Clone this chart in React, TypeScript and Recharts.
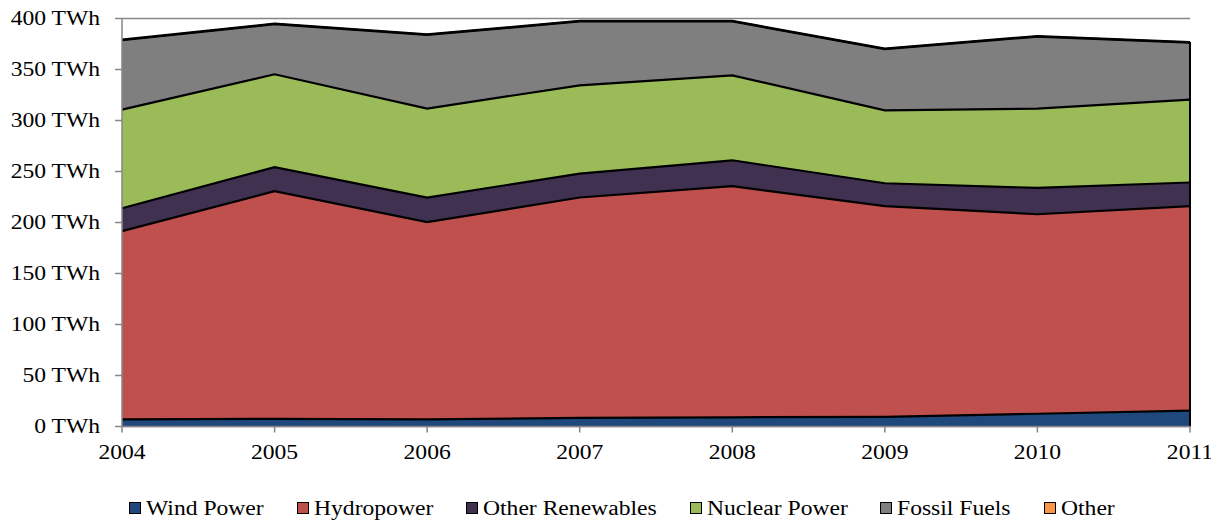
import React from 'react';
import {
  AreaChart,
  Area,
  XAxis,
  YAxis,
  CartesianGrid,
  Legend,
  ReferenceLine,
} from 'recharts';

// Electricity generation by source, TWh per year
const years = ['2004', '2005', '2006', '2007', '2008', '2009', '2010', '2011'];
const windPower = [7, 7.5, 7, 8.5, 9, 9.5, 12.5, 15.5];
const hydropower = [184.5, 223.2, 193.3, 216, 226.6, 206.5, 195.6, 200.5];
const otherRenewables = [22.5, 23.5, 24.2, 23.5, 25.4, 22.5, 25.8, 23.2];
const nuclearPower = [96.7, 91.1, 87.2, 86.5, 83.3, 71.5, 77.8, 81.3];
const fossilFuels = [68, 49.1, 72.2, 62.6, 52.8, 59.9, 70.6, 55.9];
const otherSources = [0.5, 0.5, 0.5, 0.5, 0.5, 0.5, 0.5, 0.5];
const yTicks = [0, 50, 100, 150, 200, 250, 300, 350, 400];

const series = [
  { key: 'wind', name: 'Wind Power', color: '#1F497D', values: windPower },
  { key: 'hydro', name: 'Hydropower', color: '#C0504D', values: hydropower },
  { key: 'otherRen', name: 'Other Renewables', color: '#403151', values: otherRenewables },
  { key: 'nuclear', name: 'Nuclear Power', color: '#9BBB59', values: nuclearPower },
  { key: 'fossil', name: 'Fossil Fuels', color: '#7F7F7F', values: fossilFuels },
  { key: 'other', name: 'Other', color: '#F79646', values: otherSources },
];

const data = years.map((year, i) => {
  const row: Record<string, string | number> = { year };
  series.forEach((s) => {
    row[s.key] = s.values[i];
  });
  return row;
});

const lastIndex = years.length - 1;
const lastTotal = series.reduce((sum, s) => sum + s.values[lastIndex], 0);

const CHART_W = 1211;
const CHART_H = 513;
const FONT = '"Liberation Serif", "Times New Roman", serif';
const STRETCH = 1.18;
const AXIS_GREY = '#868686';

let measureCtx: CanvasRenderingContext2D | null = null;
function textWidth(s: string): number {
  if (!measureCtx && typeof document !== 'undefined') {
    measureCtx = document.createElement('canvas').getContext('2d');
  }
  if (!measureCtx) return s.length * 10;
  measureCtx.font = `20px ${FONT}`;
  return measureCtx.measureText(s).width;
}

const YTick = (props: any) => {
  const { x, y, payload } = props;
  return (
    <text
      transform={`translate(${x},${y}) scale(${STRETCH},1)`}
      textAnchor="end"
      dy={6.5}
      fontSize={20}
      fontFamily={FONT}
      fill="#000"
    >
      {`${payload.value} TWh`}
    </text>
  );
};

const XTick = (props: any) => {
  const { x, y, payload } = props;
  return (
    <text
      transform={`translate(${x},${y}) scale(${STRETCH},1)`}
      textAnchor="middle"
      dy={24.5}
      fontSize={20}
      fontFamily={FONT}
      fill="#000"
    >
      {payload.value}
    </text>
  );
};

const LegendContent = () => (
  <div
    style={{
      height: 28,
      display: 'flex',
      alignItems: 'center',
      paddingLeft: 121,
      paddingTop: 2,
      boxSizing: 'border-box',
      fontFamily: FONT,
      fontSize: 20,
      color: '#000',
    }}
  >
    {series.map((s) => (
      <div key={s.key} style={{ display: 'flex', alignItems: 'center', marginRight: 33 }}>
        <span
          style={{
            display: 'inline-block',
            width: 10,
            height: 10,
            border: '1.5px solid #000',
            background: s.color,
          }}
        />
        <span
          style={{
            display: 'inline-block',
            width: textWidth(s.name) * STRETCH,
            marginLeft: 5,
            lineHeight: '22px',
          }}
        >
          <span
            style={{
              display: 'inline-block',
              transform: `scaleX(${STRETCH})`,
              transformOrigin: 'left center',
              whiteSpace: 'nowrap',
            }}
          >
            {s.name}
          </span>
        </span>
      </div>
    ))}
  </div>
);

export default function App() {
  return (
    <div style={{ width: CHART_W, height: CHART_H, background: '#fff' }}>
      <AreaChart
        width={CHART_W}
        height={CHART_H}
        data={data}
        margin={{ top: 10.5, right: 29, left: 0, bottom: 0 }}
      >
        <CartesianGrid vertical={false} stroke={AXIS_GREY} strokeWidth={1.5} />
        {/* filled layers */}
        {series.map((s) => (
          <Area
            key={s.key}
            type="linear"
            dataKey={s.key}
            name={s.name}
            stackId="gen"
            fill={s.color}
            fillOpacity={1}
            stroke="none"
            dot={false}
            activeDot={false}
            isAnimationActive={false}
          />
        ))}
        {/* black boundary lines drawn on top of all fills */}
        {series.map((s) => (
          <Area
            key={`${s.key}-edge`}
            type="linear"
            dataKey={s.key}
            name={`${s.name} edge`}
            stackId="edges"
            fill="none"
            stroke="#000"
            strokeWidth={2.2}
            legendType="none"
            dot={false}
            activeDot={false}
            isAnimationActive={false}
          />
        ))}
        <ReferenceLine
          segment={[
            { x: years[lastIndex], y: 0 },
            { x: years[lastIndex], y: lastTotal },
          ]}
          stroke="#000"
          strokeWidth={2}
          ifOverflow="visible"
        />
        <XAxis
          dataKey="year"
          height={66.5}
          interval={0}
          tickSize={6}
          tickMargin={2}
          tick={<XTick />}
          axisLine={{ stroke: AXIS_GREY, strokeWidth: 1.5 }}
          tickLine={{ stroke: AXIS_GREY, strokeWidth: 1.5 }}
        />
        <YAxis
          width={114}
          domain={[0, 400]}
          ticks={yTicks}
          interval={0}
          tickSize={7}
          tickMargin={15}
          tick={<YTick />}
          axisLine={{ stroke: AXIS_GREY, strokeWidth: 1.5 }}
          tickLine={{ stroke: AXIS_GREY, strokeWidth: 1.5 }}
        />
        <Legend
          verticalAlign="bottom"
          content={<LegendContent />}
          wrapperStyle={{ left: 0, width: CHART_W }}
        />
      </AreaChart>
    </div>
  );
}
